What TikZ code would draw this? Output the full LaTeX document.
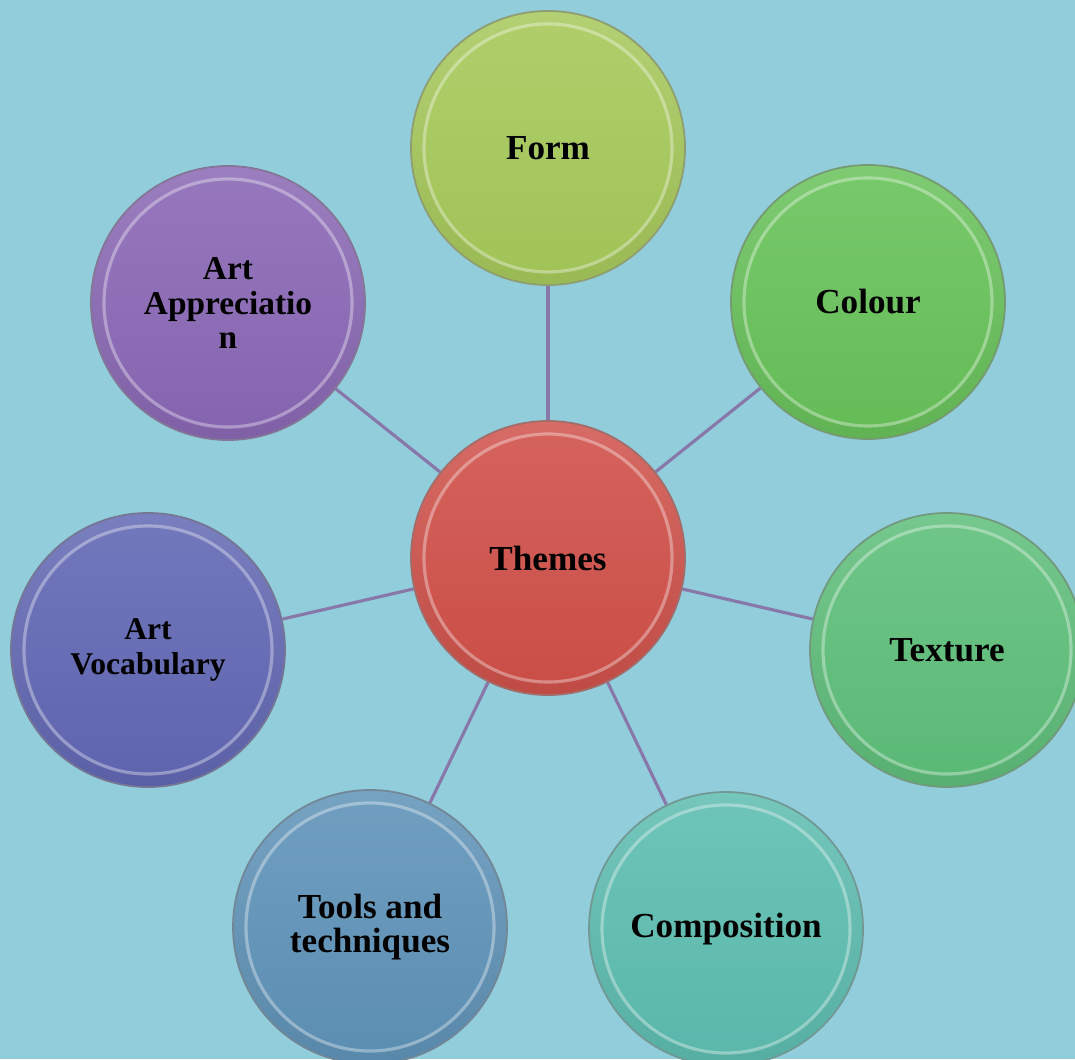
\documentclass[tikz,border=0pt]{standalone}
\usepackage{fontspec}
\setmainfont{Liberation Serif}
\usetikzlibrary{positioning}
\pgfdeclarelayer{background}
\pgfsetlayers{background,main}

\definecolor{bgcol}{HTML}{92CDDC}
\definecolor{linkcol}{HTML}{8878AA}
\definecolor{themescol}{HTML}{D0514A}
\definecolor{formcol}{HTML}{A6C95A}
\definecolor{colourcol}{HTML}{68C25A}
\definecolor{texturecol}{HTML}{5EBF7A}
\definecolor{compcol}{HTML}{5DBDB0}
\definecolor{toolscol}{HTML}{5F93B8}
\definecolor{vocabcol}{HTML}{6268B4}
\definecolor{apprcol}{HTML}{8A68B5}

\begin{document}
\begin{tikzpicture}[
    bubble/.style={circle, minimum size=2.74cm, inner sep=0pt, align=center,
      draw=#1!40!gray, line width=0.5pt, fill=#1,
      font=\bfseries\fontsize{10}{9.5}\selectfont,
      path picture={
        \shade[top color=#1!85!white, bottom color=#1!92!black]
          (path picture bounding box.center) circle (1.4cm);
        \draw[draw=white, draw opacity=0.35, line width=0.9pt,
          top color=#1!90!white, bottom color=#1!97!black]
          (path picture bounding box.center) circle (1.24cm);
      }},
    link/.style={draw=linkcol, line width=0.9pt}]

  \useasboundingbox (0,0) rectangle (10.75,10.59);

  % centre and the seven topics
  \node[bubble=themescol] (themes) at (5.48,5.01) {Themes};
  \node[bubble=formcol] (form) at (5.48,9.11) {Form};
  \node[bubble=colourcol] (colour) at (8.68,7.57) {Colour};
  \node[bubble=texturecol] (texture) at (9.47,4.09) {Texture};
  \node[bubble=compcol] (comp) at (7.26,1.30) {Composition};
  \node[bubble=toolscol] (tools) at (3.70,1.32) {Tools and\\techniques};
  \node[bubble=vocabcol, font=\bfseries\fontsize{9}{9.7}\selectfont]
    (vocab) at (1.48,4.09) {Art\\Vocabulary};
  \node[bubble=apprcol, font=\bfseries\fontsize{9.5}{9.8}\selectfont]
    (appr) at (2.28,7.56) {Art\\Appreciatio\\n};

  \begin{pgfonlayer}{background}
    \fill[bgcol] (0,0) rectangle (10.75,10.59);
    \foreach \t in {form,colour,texture,comp,tools,vocab,appr}
      \draw[link] (themes) -- (\t);
  \end{pgfonlayer}
\end{tikzpicture}
\end{document}
